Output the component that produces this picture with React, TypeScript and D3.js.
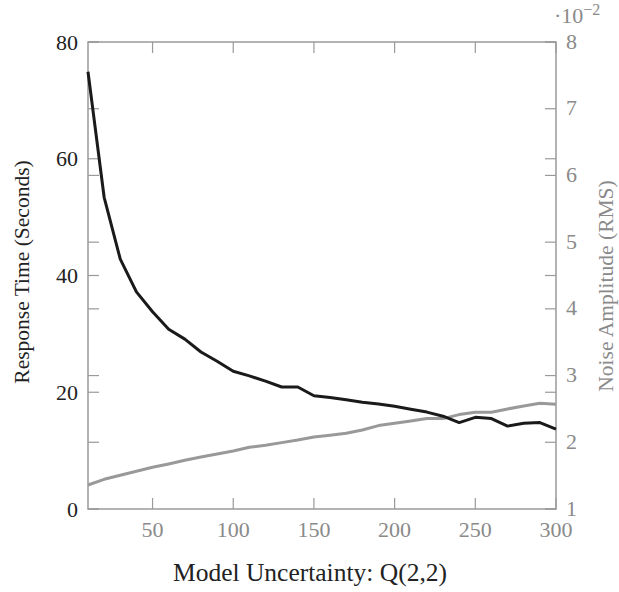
import React from "react";
import * as d3 from "d3";

const xValues = [10, 20, 30, 40, 50, 60, 70, 80, 90, 100, 110, 120, 130, 140, 150, 160, 170, 180, 190, 200, 210, 220, 230, 240, 250, 260, 270, 280, 290, 300];
const responseTime = [74.9, 53.4, 42.8, 37.2, 33.8, 30.8, 29.1, 26.9, 25.3, 23.6, 22.8, 21.9, 20.9, 20.9, 19.4, 19.1, 18.7, 18.3, 18.0, 17.6, 17.1, 16.6, 15.9, 14.8, 15.7, 15.5, 14.2, 14.7, 14.8, 13.7];
const noiseAmp = [1.36, 1.445, 1.505, 1.565, 1.625, 1.675, 1.73, 1.78, 1.825, 1.87, 1.925, 1.955, 1.995, 2.035, 2.08, 2.105, 2.135, 2.185, 2.25, 2.285, 2.32, 2.355, 2.355, 2.415, 2.45, 2.45, 2.5, 2.545, 2.585, 2.57];
const xTicks = [50, 100, 150, 200, 250, 300];
const leftTicks = [0, 20, 40, 60, 80];
const rightTicks = [1, 2, 3, 4, 5, 6, 7, 8];

const W = 619, H = 592;
const L = 88, R = 556, T = 42, B = 509;
const axisGray = "#9a9a9a";
const labelGray = "#8a8a8a";
const font = "'Liberation Serif', 'DejaVu Serif', serif";
const TL = 11;

export default function App() {
  const x = d3.scaleLinear().domain([10, 300]).range([L, R]);
  const yL = d3.scaleLinear().domain([0, 80]).range([B, T]);
  const yR = d3.scaleLinear().domain([1, 8]).range([B, T]);

  const lineL = d3.line<number>().x((_, i) => x(xValues[i])).y((d) => yL(d));
  const lineR = d3.line<number>().x((_, i) => x(xValues[i])).y((d) => yR(d));

  const allYTicks = [...leftTicks.map((t) => yL(t)), ...rightTicks.map((t) => yR(t))];

  return (
    <svg width={W} height={H} style={{ position: "absolute", left: 0, top: 0 }} fontFamily={font}>
      <rect x={0} y={0} width={W} height={H} fill="#fff" />
      {allYTicks.map((py, i) => (
        <g key={"yt" + i}>
          <line x1={L} x2={L + TL} y1={py} y2={py} stroke={axisGray} strokeWidth={1.2} />
          <line x1={R} x2={R - TL} y1={py} y2={py} stroke={axisGray} strokeWidth={1.2} />
        </g>
      ))}
      {xTicks.map((t) => (
        <g key={"xt" + t}>
          <line x1={x(t)} x2={x(t)} y1={B} y2={B - TL} stroke={axisGray} strokeWidth={1.2} />
          <line x1={x(t)} x2={x(t)} y1={T} y2={T + TL} stroke={axisGray} strokeWidth={1.2} />
        </g>
      ))}
      <rect x={L} y={T} width={R - L} height={B - T} fill="none" stroke={axisGray} strokeWidth={1.5} />

      <path d={lineR(noiseAmp) || ""} fill="none" stroke="#999999" strokeWidth={3} strokeLinejoin="round" />
      <path d={lineL(responseTime) || ""} fill="none" stroke="#1a1a1a" strokeWidth={3} strokeLinejoin="round" />

      {leftTicks.map((t) => (
        <text key={"lt" + t} x={L - 10} y={yL(t)} textAnchor="end" dominantBaseline="central" fontSize={22} fill="#222">
          {t}
        </text>
      ))}
      {rightTicks.map((t) => (
        <text key={"rt" + t} x={R + 10} y={yR(t) - 1} textAnchor="start" dominantBaseline="central" fontSize={22} fill={labelGray}>
          {t}
        </text>
      ))}
      {xTicks.map((t) => (
        <text key={"xl" + t} x={x(t)} y={529} textAnchor="middle" dominantBaseline="central" fontSize={22} fill={labelGray}>
          {t}
        </text>
      ))}
      <text x={554} y={23} fontSize={22} fill={labelGray}>
        ·10<tspan dy={-8} fontSize={16}>−2</tspan>
      </text>
      <text x={310} y={581} textAnchor="middle" fontSize={25.5} fill="#222">
        Model Uncertainty: Q(2,2)
      </text>
      <text transform={`translate(22,272) rotate(-90)`} textAnchor="middle" dominantBaseline="central" fontSize={21.5} fill="#222">
        Response Time (Seconds)
      </text>
      <text transform={`translate(606,286) rotate(-90)`} textAnchor="middle" dominantBaseline="central" fontSize={21.5} fill={labelGray}>
        Noise Amplitude (RMS)
      </text>
    </svg>
  );
}
